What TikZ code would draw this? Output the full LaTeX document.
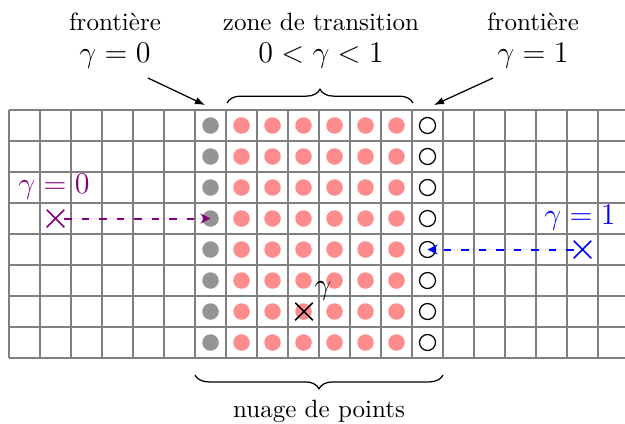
\documentclass[tikz,border=0pt]{standalone}
\usetikzlibrary{arrows.meta,decorations.pathreplacing,shapes.misc}
\definecolor{mypurple}{RGB}{128,0,128}
\definecolor{myblue}{RGB}{0,0,255}
\begin{document}
\begin{tikzpicture}[x=0.4pt,y=-0.4pt,
  gridline/.style={draw=black!50,line width=0.6pt},
  graydot/.style={circle,fill=black!42,inner sep=0pt,minimum size=6.6pt},
  reddot/.style={circle,fill=red!45,inner sep=0pt,minimum size=6.6pt},
  opendot/.style={circle,draw=black,line width=0.5pt,inner sep=0pt,minimum size=6.4pt},
  xmark/.style={cross out,draw,line width=0.6pt,inner sep=0pt,minimum size=6.4pt},
  lbl/.style={inner sep=0pt,font=\normalsize},
  mlbl/.style={inner sep=0pt,font=\large},
  ptr/.style={-{Latex[length=4pt,width=3pt]},line width=0.5pt},
  dashptr/.style={dash pattern=on 3pt off 4pt,line width=0.8pt,-{Stealth[length=4pt,width=4pt]}},
  brc/.style={decorate,decoration={brace,amplitude=5.5pt},line width=0.5pt}]
\useasboundingbox (0,0) rectangle (625,423);
\begin{scope}
\clip (0,0) rectangle (625,423);
\foreach \k in {0,...,8} {\draw[gridline] (9,110+31*\k) -- (640,110+31*\k);}
\foreach \k in {0,...,20} {\draw[gridline] (9+31*\k,110) -- (9+31*\k,358);}
\end{scope}
% dots
\foreach \r in {0,...,7} {
  \node[graydot] (g\r) at (210.5,125.5+31*\r) {};
  \foreach \c in {1,...,6} {\node[reddot] (r\c-\r) at (210.5+31*\c,125.5+31*\r) {};}
  \node[opendot] (o\r) at (427.5,125.5+31*\r) {};
}
% top labels
\node[lbl] (ft0) at (115,22) {frontière};
\node[mlbl] (fm0) at (115,56) {$\gamma = 0$};
\node[lbl] (zt) at (321,22) {zone de transition};
\node[mlbl] (zm) at (321,56) {$0 < \gamma < 1$};
\node[lbl] (ft1) at (533,22) {frontière};
\node[mlbl] (fm1) at (533,56) {$\gamma = 1$};
\coordinate (a0s) at (148,78);
\coordinate (a0e) at (205,105);
\coordinate (a1s) at (493,78);
\coordinate (a1e) at (434,105);
\draw[ptr] (a0s) -- (a0e);
\draw[ptr] (a1s) -- (a1e);
% braces
\coordinate (bt1) at (227,103);
\coordinate (bt2) at (413,103);
\draw[brc] (bt1) -- (bt2);
\coordinate (bb1) at (443,375);
\coordinate (bb2) at (195,375);
\draw[brc] (bb1) -- (bb2);
\node[lbl] (np) at (319,411) {nuage de points};
% purple
\node[mlbl,text=mypurple] (p0) at (54,187) {$\gamma = 0$};
\node[xmark,draw=mypurple] (c0) at (55.5,218.5) {};
\draw[dashptr,draw=mypurple,fill=mypurple] (c0) -- (g3.center);
% blue
\node[mlbl,text=myblue] (p1) at (580,218) {$\gamma = 1$};
\node[xmark,draw=myblue] (c1) at (582.5,249.5) {};
\draw[dashptr,draw=myblue,fill=myblue] (c1) -- (o4.center);
% black cross
\node[xmark] (cg) at (304,311.5) {};
\node[mlbl] (gl) at (323,291) {$\gamma$};
\end{tikzpicture}
\end{document}
